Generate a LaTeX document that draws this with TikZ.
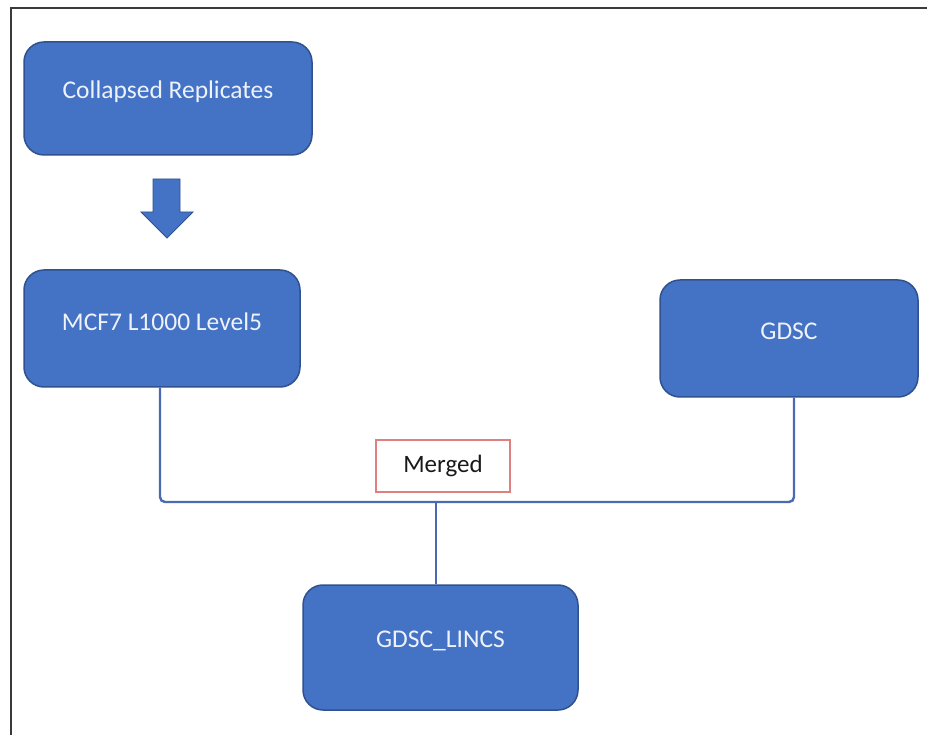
\documentclass[tikz,border=0pt]{standalone}
\usepackage{fontspec}
\setmainfont{Carlito}
\usetikzlibrary{calc}

\definecolor{boxfill}{HTML}{4472C4}
\definecolor{boxedge}{HTML}{2F528F}
\definecolor{boxtext}{HTML}{EEF2FA}
\definecolor{wire}{HTML}{4A6BB2}
\definecolor{tagedge}{HTML}{DE8080}
\definecolor{frame}{HTML}{3A3A3A}

\tikzset{
  stage/.style={draw=boxedge, line width=1.5pt, fill=boxfill,
    rounded corners=20pt, inner sep=0pt},
  stagetext/.style={text=boxtext, font=\fontsize{25.5}{30}\selectfont, yshift=7pt},
  tag/.style={draw=tagedge, line width=1.8pt, fill=white, inner sep=0pt,
    minimum width=134pt, minimum height=52pt,
    font=\fontsize{25}{30}\selectfont, text=black!90},
  wireline/.style={draw=wire, line width=2.4pt, rounded corners=5pt},
  blockarrow/.style={fill=boxfill, draw=boxedge, line width=0.8pt, line join=miter}
}

\begin{document}
\begin{tikzpicture}[x=1pt, y=-1pt]
  \useasboundingbox (0,0) rectangle (927,735);
  \fill[white] (0,0) rectangle (927,735);

  % outer frame (left and top edges)
  \draw[frame, line width=2pt] (10.5,735) -- (10.5,8.5) -- (927,8.5);

  % process stages
  \node[stage, minimum width=288pt, minimum height=113pt,
        label={[stagetext]center:Collapsed Replicates}] (cr) at (168,98.5) {};
  \node[stage, minimum width=276pt, minimum height=117pt,
        label={[stagetext]center:MCF7 L1000 Level5}] (mcf) at (162,328.5) {};
  \node[stage, minimum width=258pt, minimum height=117pt,
        label={[stagetext]center:GDSC}] (gdsc) at (789,338.5) {};
  \node[stage, minimum width=275pt, minimum height=125pt,
        label={[stagetext]center:GDSC\_LINCS}] (lincs) at (440.5,647.5) {};

  % block arrow between the first two stages
  \path[blockarrow] (153,179) -- (180,179) -- (180,212) -- (193,212)
        -- (167,238) -- (141,212) -- (153,212) -- cycle;

  % merge connectors
  \coordinate (bus) at (436,502);
  \draw[wireline] ([xshift=-2pt]mcf.south) |- (bus) -| ([xshift=5pt]gdsc.south);
  \draw[wireline] (bus) -- (bus |- lincs.north);

  % merge label
  \node[tag] (merged) at (443,466) {Merged};
\end{tikzpicture}
\end{document}
